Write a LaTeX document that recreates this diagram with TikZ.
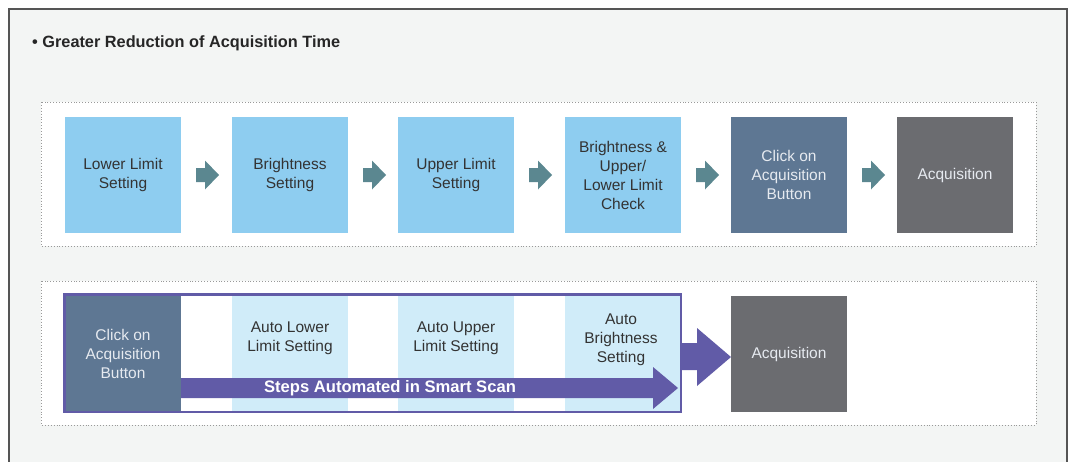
\documentclass[tikz,border=0pt]{standalone}
\usepackage{fontspec}
\setmainfont{Liberation Sans}
\usetikzlibrary{calc}
\definecolor{framebg}{HTML}{F3F5F4}
\definecolor{framel}{HTML}{555555}
\definecolor{lblue}{HTML}{8ECDF0}
\definecolor{pblue}{HTML}{D0ECF9}
\definecolor{slate}{HTML}{5E7793}
\definecolor{dgray}{HTML}{6B6C70}
\definecolor{tealarr}{HTML}{5B8790}
\definecolor{purp}{HTML}{615BA7}
\definecolor{txtd}{HTML}{333333}
\definecolor{txtl}{HTML}{E6EAF0}
\definecolor{dotc}{HTML}{999999}
\tikzset{
  sq/.style={anchor=north west, minimum width=116pt, minimum height=116pt, inner sep=0pt, outer sep=0pt, align=center, font=\fontsize{15.5}{19}\selectfont},
  lightsq/.style={sq, fill=lblue, text=txtd},
  palesq/.style={sq, fill=pblue, text=txtd, minimum height=115pt},
  slatesq/.style={sq, fill=slate, text=txtl},
  graysq/.style={sq, fill=dgray, text=txtl},
  dotbox/.style={draw=dotc, dotted, line width=0.9pt, fill=white},
  lbl/.style={align=center, inner sep=0pt, font=\fontsize{15.5}{19}\selectfont, text=txtd}
}
\newcommand{\stepArrow}[1]{\fill[tealarr] ([shift={(15,-7)}]#1.east) -- ++(9,0) -- ++(0,-7.5) -- ++(14,14.5) -- ++(-14,14.5) -- ++(0,-7.5) -- ++(-9,0) -- cycle;}
\begin{document}
\begin{tikzpicture}[x=1pt,y=-1pt]
\useasboundingbox (0,0) rectangle (1068,461);
\fill[white] (0,0) rectangle (1068,461);
\fill[framebg] (9,9) rectangle (1067,470);
\draw[framel, line width=1.2pt] (9,470) -- (9,9) -- (1067,9) -- (1067,470);
\node[anchor=west, inner sep=0pt, font=\bfseries\fontsize{16.3}{19}\selectfont, text=black!85] (title) at (32,43) {\textbullet\ Greater Reduction of Acquisition Time};
% top row
\draw[dotbox] (41,102) rectangle (1036,246);
\node[lightsq] (a1) at (65,117) {Lower Limit\\Setting};
\node[lightsq] (a2) at (232,117) {Brightness\\Setting};
\node[lightsq] (a3) at (398,117) {Upper Limit\\Setting};
\node[lightsq] (a4) at (565,117) {Brightness \&\\Upper/\\Lower Limit\\Check};
\node[slatesq] (a5) at (731,117) {Click on\\Acquisition\\Button};
\node[graysq] (a6) at (897,117) {Acquisition};
\stepArrow{a1}\stepArrow{a2}\stepArrow{a3}\stepArrow{a4}\stepArrow{a5}
% bottom row
\draw[dotbox] (41,281) rectangle (1036,425);
\node[slatesq, minimum height=115pt] (b1) at (65,296) {Click on\\Acquisition\\Button};
\node[palesq] (b2) at (232,296) {};
\node[palesq] (b3) at (398,296) {};
\node[palesq] (b4) at (565,296) {};
\node[lbl] (t2) at (290,338) {Auto Lower\\Limit Setting};
\node[lbl] (t3) at (456,338) {Auto Upper\\Limit Setting};
\node[lbl] (t4) at (621,340) {Auto\\Brightness\\Setting};
\node[graysq] (b5) at (731,296) {Acquisition};
\coordinate (fr1) at (64.5,294.5);
\coordinate (fr2) at (681,412);
\draw[purp, line width=2.6pt] (fr1) rectangle (fr2);
% inner arrow
\fill[purp] (b1.east |- 0,378) -- (653,378) -- (653,367) -- (678,388) -- (653,409) -- (653,398) -- (b1.east |- 0,398) -- cycle;
\node[inner sep=0pt, text=white, font=\bfseries\fontsize{16.6}{19}\selectfont] (steps) at (390,388.5) {Steps Automated in Smart Scan};
% big arrow
\fill[purp] (fr2 |- 0,343) -- (697,343) -- (697,328) -- (b5.west |- 0,357) -- (697,386) -- (697,370) -- (fr2 |- 0,370) -- cycle;
\end{tikzpicture}
\end{document}
